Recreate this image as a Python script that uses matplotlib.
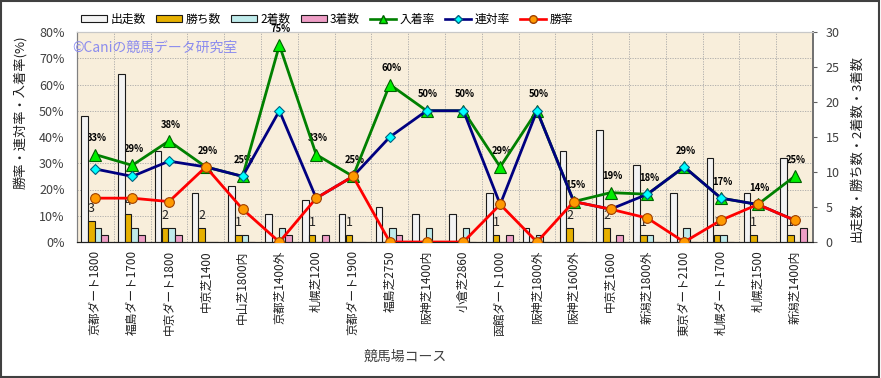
import numpy as np
import matplotlib
matplotlib.use('Agg')
import matplotlib.pyplot as plt
from matplotlib.ticker import FixedLocator
from matplotlib.patches import Rectangle, Patch
from matplotlib.lines import Line2D

plt.rcParams['font.family'] = ['Noto Sans CJK JP', 'DejaVu Sans']

courses = ['京都ダート1800', '福島ダート1700', '中京ダート1800', '中京芝1400', '中山芝1800内',
           '京都芝1400外', '札幌芝1200', '京都ダート1900', '福島芝2750', '阪神芝1400内',
           '小倉芝2860', '函館ダート1000', '阪神芝1800外', '阪神芝1600外', '中京芝1600',
           '新潟芝1800外', '東京ダート2100', '札幌ダート1700', '札幌芝1500', '新潟芝1400内']
runs    = [18, 24, 13, 7, 8, 4, 6, 4, 5, 4, 4, 7, 2, 13, 16, 11, 7, 12, 7, 12]
wins    = [3, 4, 2, 2, 1, 0, 1, 1, 0, 0, 0, 1, 0, 2, 2, 1, 0, 1, 1, 1]
seconds = [2, 2, 2, 0, 1, 2, 0, 0, 2, 2, 2, 0, 1, 0, 0, 1, 2, 1, 0, 0]
thirds  = [1, 1, 1, 0, 0, 1, 1, 0, 1, 0, 0, 1, 0, 0, 1, 0, 0, 0, 0, 2]
win_rate   = [16.7, 16.7, 15.4, 28.6, 12.5, 0, 16.7, 25, 0, 0, 0, 14.3, 0, 15.4, 12.5, 9.1, 0, 8.3, 14.3, 8.3]
rentai     = [27.8, 25, 30.8, 28.6, 25, 50, 16.7, 25, 40, 50, 50, 14.3, 50, 15.4, 12.5, 18.2, 28.6, 16.7, 14.3, 8.3]
nyuchaku   = [33.3, 29.2, 38.5, 28.6, 25, 75, 33.3, 25, 60, 50, 50, 28.6, 50, 15.4, 18.8, 18.2, 28.6, 16.7, 14.3, 25]
nyu_labels = ['33%', '29%', '38%', '29%', '25%', '75%', '33%', '25%', '60%', '50%',
              '50%', '29%', '50%', '15%', '19%', '18%', '29%', '17%', '14%', '25%']

W, H = 881, 378
fig = plt.figure(figsize=(W / 100, H / 100), dpi=100)
fig.patch.set_facecolor('white')
ax = fig.add_axes([77 / W, 1 - 242 / H, 736 / W, 210 / H])
ax.set_facecolor('#F8EEDB')
axL = ax.twinx()

x = np.arange(len(courses))
bw = 0.18
offs = [-0.295, -0.11, 0.07, 0.25]
bar_sets = [(runs, '#F3F3F3', '出走数'), (wins, '#E6B000', '勝ち数'),
            (seconds, '#BFEBEB', '2着数'), (thirds, '#EE9EC6', '3着数')]
for off, (vals, col, lab) in zip(offs, bar_sets):
    ax.bar(x + off, vals, bw, color=col, edgecolor='#1a1a1a', linewidth=0.8, zorder=3)

ax.set_xlim(-0.5, len(courses) - 0.5)
ax.set_ylim(0, 30)
axL.set_ylim(0, 80)

# grid (on bar axes, behind bars)
ax.yaxis.set_minor_locator(FixedLocator(np.arange(3.75, 30, 3.75)))
ax.xaxis.set_minor_locator(FixedLocator(np.arange(0.5, len(courses) - 0.5, 1)))
ax.grid(which='minor', color='#A8A8A8', linewidth=0.6, linestyle=(0, (1.5, 1.5)), zorder=1)
ax.tick_params(which='minor', length=0)

# count labels (wins)
for xi, w in zip(x, wins):
    if w > 0:
        ax.text(xi + offs[1], w + 0.9, str(w), ha='center', va='bottom', fontsize=9,
                color='#202020', zorder=2)

# rate labels
for xi, v, s in zip(x, nyuchaku, nyu_labels):
    ax.text(xi + 0.04, v + 4.3, s, transform=axL.transData, ha='center', va='bottom', fontsize=6.8,
            fontweight='bold', color='black', zorder=2, clip_on=False)

# lines
axL.plot(x, nyuchaku, color='#008000', lw=2.0, marker='^', ms=8.5, mfc='#00EE00', mec='#006000',
         mew=0.8, zorder=3)
axL.plot(x, rentai, color='#000080', lw=2.0, marker='D', ms=5.5, mfc='#00FFFF', mec='#006080',
         mew=0.8, zorder=4)
axL.plot(x, win_rate, color='#FF0000', lw=2.0, marker='o', ms=7, mfc='#FF9900', mec='#A04000',
         mew=0.8, zorder=5)

# ticks
ax.set_xticks(x)
ax.set_xticklabels(courses, rotation=90, fontsize=8.5, color='#202020')
ax.tick_params(axis='x', which='major', length=0, pad=6)
axL.yaxis.set_ticks_position('left')
ax.yaxis.set_ticks_position('right')
axL.set_yticks(range(0, 81, 10))
axL.set_yticklabels([f'{v}%' for v in range(0, 81, 10)], fontsize=9, color='#404040')
ax.set_yticks(range(0, 31, 5))
ax.set_yticklabels([str(v) for v in range(0, 31, 5)], fontsize=9, color='#404040')
axL.tick_params(axis='y', length=0, pad=9)
ax.tick_params(axis='y', which='major', length=3, pad=6, color='#606060')

for a in (ax, axL):
    a.spines['top'].set_color('#C8C8C8')
    a.spines['left'].set_color('#808080')
    a.spines['right'].set_color('#707070')
    a.spines['bottom'].set_color('#202020')
    a.spines['right'].set_linewidth(1.2)

fig.text(20 / W, 1 - 112 / H, '勝率・連対率・入着率(%)', rotation=90, ha='center', va='center',
         fontsize=9.5, color='#202020')
fig.text(857 / W, 1 - 148 / H, '出走数・勝ち数・2着数・3着数', rotation=90, ha='center', va='center',
         fontsize=9.5, color='#202020')
fig.text(405 / W, 1 - 357 / H, '競馬場コース', ha='center', va='center', fontsize=10, color='#404040')

# watermark
fig.text(72 / W, 1 - 48 / H, '©Caniの競馬データ研究室', ha='left', va='center', fontsize=10,
         color='#8C8CEE', zorder=10)

# legend
handles = [Patch(facecolor=c, edgecolor='#1a1a1a', linewidth=0.8) for _, c, _ in bar_sets]
handles += [Line2D([], [], color='#008000', lw=1.9, marker='^', ms=6, mfc='#00EE00', mec='#006000'),
            Line2D([], [], color='#000080', lw=1.9, marker='D', ms=4.5, mfc='#00FFFF', mec='#006080'),
            Line2D([], [], color='#FF0000', lw=1.9, marker='o', ms=5.5, mfc='#FF9900', mec='#A04000')]
labels = [b[2] for b in bar_sets] + ['入着率', '連対率', '勝率']
fig.legend(handles, labels, ncol=7, loc='center', bbox_to_anchor=(327 / W, 1 - 19 / H), frameon=False,
           fontsize=8.5, handlelength=2.2, handleheight=0.5, columnspacing=0.85, handletextpad=0.3,
           borderaxespad=0, borderpad=0)

fig.add_artist(Rectangle((0.001, 0.002), 0.997, 0.996, transform=fig.transFigure, fill=False,
                         edgecolor='#404040', linewidth=1.5))

fig.savefig('out.png', dpi=100)
